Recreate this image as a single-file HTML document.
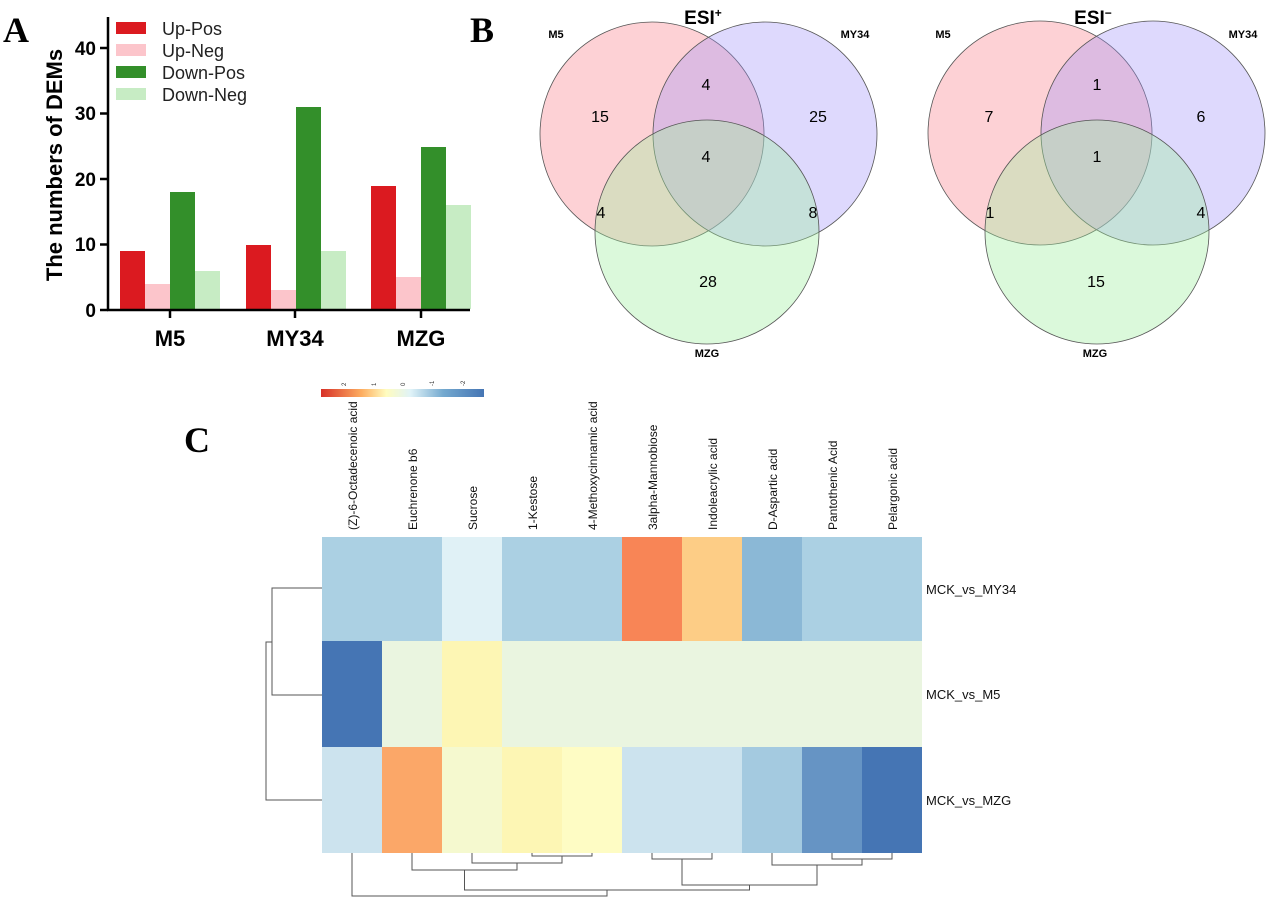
<!DOCTYPE html><html><head><style>body{margin:0;background:#fff}svg{display:block}</style></head><body>
<svg width="1267" height="901" xmlns="http://www.w3.org/2000/svg" font-family="Liberation Sans, sans-serif">
<rect width="1267" height="901" fill="#fff"/>
<text x="3" y="42" font-family="Liberation Serif" font-weight="bold" font-size="36">A</text>
<text x="470" y="42" font-family="Liberation Serif" font-weight="bold" font-size="36">B</text>
<text x="184" y="452" font-family="Liberation Serif" font-weight="bold" font-size="36">C</text>
<!-- bar chart -->
<g>
<g>
<rect x="120" y="251" width="25" height="58" fill="#db1a20"/><rect x="145" y="284" width="25" height="25" fill="#fcc5cb"/><rect x="170" y="192" width="25" height="117" fill="#338f2a"/><rect x="195" y="271" width="25" height="38" fill="#c7ecc4"/>
<rect x="246" y="245" width="25" height="64" fill="#db1a20"/><rect x="271" y="290" width="25" height="19" fill="#fcc5cb"/><rect x="296" y="107" width="25" height="202" fill="#338f2a"/><rect x="321" y="251" width="25" height="58" fill="#c7ecc4"/>
<rect x="371" y="186" width="25" height="123" fill="#db1a20"/><rect x="396" y="277" width="25" height="32" fill="#fcc5cb"/><rect x="421" y="147" width="25" height="162" fill="#338f2a"/><rect x="446" y="205" width="25" height="104" fill="#c7ecc4"/>
</g>
<line x1="108" y1="17" x2="108" y2="311" stroke="#000" stroke-width="2.5"/>
<line x1="107" y1="310" x2="470" y2="310" stroke="#000" stroke-width="2.5"/>
<g stroke="#000" stroke-width="2.5"><line x1="100" y1="310" x2="108" y2="310"/><line x1="100" y1="244.5" x2="108" y2="244.5"/><line x1="100" y1="179" x2="108" y2="179"/><line x1="100" y1="113.5" x2="108" y2="113.5"/><line x1="100" y1="48" x2="108" y2="48"/>
<line x1="170" y1="310" x2="170" y2="318"/><line x1="295" y1="310" x2="295" y2="318"/><line x1="421" y1="310" x2="421" y2="318"/></g>
<g font-weight="bold" font-size="19" text-anchor="end"><text x="96" y="317">0</text><text x="96" y="251">10</text><text x="96" y="186">20</text><text x="96" y="120">30</text><text x="96" y="55">40</text></g>
<g font-weight="bold" font-size="22" text-anchor="middle"><text x="170" y="346">M5</text><text x="295" y="346">MY34</text><text x="421" y="346">MZG</text></g>
<text transform="translate(62,165) rotate(-90)" text-anchor="middle" font-weight="bold" font-size="22">The numbers of DEMs</text>
<rect x="116" y="22" width="30" height="12" fill="#db1a20"/><rect x="116" y="44" width="30" height="12" fill="#fcc5cb"/><rect x="116" y="66" width="30" height="12" fill="#338f2a"/><rect x="116" y="88" width="30" height="12" fill="#c7ecc4"/>
<g font-size="18" fill="#222"><text x="162" y="35">Up-Pos</text><text x="162" y="57">Up-Neg</text><text x="162" y="79">Down-Pos</text><text x="162" y="101">Down-Neg</text></g>
</g>
<!-- venns -->
<g stroke="#555" stroke-width="0.8">
<circle cx="652" cy="134" r="112" fill="rgba(250,140,150,0.4)"/><circle cx="765" cy="134" r="112" fill="rgba(160,145,250,0.35)"/><circle cx="707" cy="232" r="112" fill="rgba(160,240,160,0.38)"/>
<circle cx="1040" cy="133" r="112" fill="rgba(250,140,150,0.4)"/><circle cx="1153" cy="133" r="112" fill="rgba(160,145,250,0.35)"/><circle cx="1097" cy="232" r="112" fill="rgba(160,240,160,0.38)"/>
</g>
<g font-size="16" text-anchor="middle"><text x="600" y="122">15</text><text x="706" y="90">4</text><text x="818" y="122">25</text><text x="706" y="162">4</text><text x="601" y="218">4</text><text x="813" y="218">8</text><text x="708" y="287">28</text>
<text x="989" y="122">7</text><text x="1097" y="90">1</text><text x="1201" y="122">6</text><text x="1097" y="162">1</text><text x="990" y="218">1</text><text x="1201" y="218">4</text><text x="1096" y="287">15</text></g>
<g font-size="11" font-weight="bold" text-anchor="middle"><text x="556" y="38">M5</text><text x="855" y="38">MY34</text><text x="707" y="357">MZG</text><text x="943" y="38">M5</text><text x="1243" y="38">MY34</text><text x="1095" y="357">MZG</text></g>
<g font-size="19" font-weight="bold" text-anchor="middle"><text x="703" y="24">ESI<tspan font-size="12" dy="-7">+</tspan></text><text x="1093" y="24">ESI<tspan font-size="12" dy="-7">−</tspan></text></g>
<!-- colorbar -->
<defs><linearGradient id="cb"><stop offset="0" stop-color="#d73027"/><stop offset="0.25" stop-color="#fdae61"/><stop offset="0.4" stop-color="#fffcbf"/><stop offset="0.55" stop-color="#e0f3f8"/><stop offset="0.75" stop-color="#74a9cf"/><stop offset="1" stop-color="#4575b4"/></linearGradient></defs>
<rect x="321" y="389" width="163" height="8" fill="url(#cb)"/>
<g font-size="6" fill="#333"><text transform="translate(346,386) rotate(-90)">2</text><text transform="translate(376,386) rotate(-90)">1</text><text transform="translate(405,386) rotate(-90)">0</text><text transform="translate(434,386) rotate(-90)">-1</text><text transform="translate(465,386) rotate(-90)">-2</text></g>
<g font-size="12" fill="#111">
<text transform="translate(357,530) rotate(-90)">(Z)-6-Octadecenoic acid</text>
<text transform="translate(417,530) rotate(-90)">Euchrenone b6</text>
<text transform="translate(477,530) rotate(-90)">Sucrose</text>
<text transform="translate(537,530) rotate(-90)">1-Kestose</text>
<text transform="translate(597,530) rotate(-90)">4-Methoxycinnamic acid</text>
<text transform="translate(657,530) rotate(-90)">3alpha-Mannobiose</text>
<text transform="translate(717,530) rotate(-90)">Indoleacrylic acid</text>
<text transform="translate(777,530) rotate(-90)">D-Aspartic acid</text>
<text transform="translate(837,530) rotate(-90)">Pantothenic Acid</text>
<text transform="translate(897,530) rotate(-90)">Pelargonic acid</text>
</g>
<!-- heatmap -->
<g>
<rect x="322" y="537" width="120" height="104" fill="#abd0e3"/><rect x="442" y="537" width="60" height="104" fill="#e0f1f6"/><rect x="502" y="537" width="120" height="104" fill="#abd0e3"/><rect x="622" y="537" width="60" height="104" fill="#f88556"/><rect x="682" y="537" width="60" height="104" fill="#fdcd86"/><rect x="742" y="537" width="60" height="104" fill="#8bb8d6"/><rect x="802" y="537" width="120" height="104" fill="#abd0e3"/>
<rect x="322" y="641" width="60" height="106" fill="#4575b4"/><rect x="382" y="641" width="60" height="106" fill="#eaf5e0"/><rect x="442" y="641" width="60" height="106" fill="#fdf6b4"/><rect x="502" y="641" width="420" height="106" fill="#eaf5e0"/>
<rect x="322" y="747" width="60" height="106" fill="#cce3ee"/><rect x="382" y="747" width="60" height="106" fill="#fba768"/><rect x="442" y="747" width="60" height="106" fill="#f5f9cf"/><rect x="502" y="747" width="60" height="106" fill="#fdf6b4"/><rect x="562" y="747" width="60" height="106" fill="#fefcc4"/><rect x="622" y="747" width="120" height="106" fill="#cce3ee"/><rect x="742" y="747" width="60" height="106" fill="#a4cae0"/><rect x="802" y="747" width="60" height="106" fill="#6694c4"/><rect x="862" y="747" width="60" height="106" fill="#4575b4"/>
</g>
<g font-size="13" fill="#111"><text x="926" y="594">MCK_vs_MY34</text><text x="926" y="699">MCK_vs_M5</text><text x="926" y="805">MCK_vs_MZG</text></g>
<g fill="none" stroke="#555" stroke-width="1">
<path d="M322 588H272V695H322"/><path d="M272 642H266V800H322"/>
<path d="M532 853V856H592V853"/><path d="M472 853V863H562V856"/><path d="M412 853V870H517V863"/>
<path d="M652 853V859H712V853"/><path d="M832 853V859H892V853"/><path d="M772 853V865H862V859"/><path d="M682 859V885H817V865"/>
<path d="M464.5 870V890H749.5V885"/><path d="M352 853V896H607V890"/>
</g>
</svg>
</body></html>
